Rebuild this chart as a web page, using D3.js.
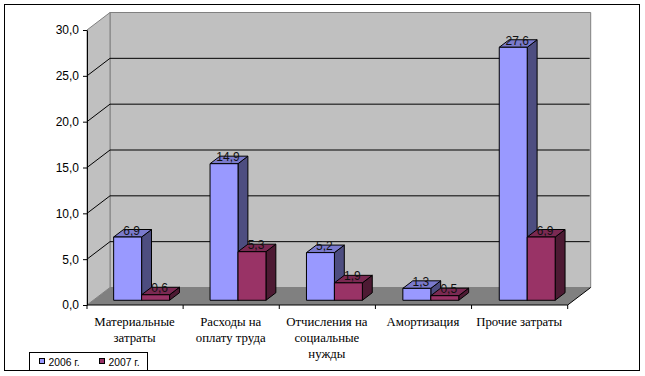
<!DOCTYPE html>
<html>
<head>
<meta charset="utf-8">
<script src="https://d3js.org/d3.v7.min.js"></script>
<style>
html, body { margin: 0; padding: 0; background: #fff; }
svg { display: block; }
</style>
</head>
<body>
<script>
var categories = ["Материальные затраты", "Расходы на оплату труда", "Отчисления на социальные нужды", "Амортизация", "Прочие затраты"];
var categoryLines = [["Материальные", "затраты"], ["Расходы на", "оплату труда"], ["Отчисления на", "социальные", "нужды"], ["Амортизация"], ["Прочие затраты"]];
var seriesNames = ["2006 г.", "2007 г."];
var values2006 = [6.9, 14.9, 5.2, 1.3, 27.6];
var values2007 = [0.6, 5.3, 1.9, 0.5, 6.9];
var yTicks = [0, 5, 10, 15, 20, 25, 30];

var colors = [
	{front: "#9999ff", top: "#7a7acc", side: "#4d4d80"},
	{front: "#993366", top: "#7a2952", side: "#4d1a33"}
];

var width = 645, height = 376;

var svg = d3.select("body").append("svg")
	.attr("width", width)
	.attr("height", height);

// scales
var y = d3.scaleLinear().domain([0, 30]).range([305, 30]);
var x = d3.scaleBand().domain(categories).range([87.2, 569.2]).paddingInner(0.42).paddingOuter(0.21);
var xGroup = d3.scaleBand().domain([0, 1]).range([0, x.bandwidth()]);
var xFloor = d3.scaleBand().domain(categories).range([87, 567.7]);

// depth: 0 = front of the floor, 1 = back wall
var depthX = d3.scaleLinear().domain([0, 1]).range([0, 23]);
var depthY = d3.scaleLinear().domain([0, 1]).range([0, -17.5]);
var barFront = 0.27, barBack = 0.7;

var left = xFloor.range()[0], right = xFloor.range()[1];

function poly(points, fill, stroke) {
	return svg.append("polygon")
		.attr("points", points.map(function(p) { return p.join(","); }).join(" "))
		.attr("fill", fill)
		.attr("stroke", stroke || "none");
}

function line(x1, y1, x2, y2, color, w) {
	return svg.append("line")
		.attr("x1", x1).attr("y1", y1)
		.attr("x2", x2).attr("y2", y2)
		.attr("stroke", color)
		.attr("stroke-width", w || 1);
}

// outer frame
svg.append("rect")
	.attr("x", 4.5).attr("y", 4.5)
	.attr("width", 635).attr("height", 366)
	.attr("fill", "#fff")
	.attr("stroke", "#000")
	.attr("stroke-width", 1);

var d = depthX(1), e = depthY(1);

// walls and floor
poly([[left + d, y(30) + e], [right + d, y(30) + e], [right + d, y(0) + e], [left + d, y(0) + e]], "#c0c0c0", "#808080");
poly([[left, y(30)], [left + d, y(30) + e], [left + d, y(0) + e], [left, y(0)]], "#c0c0c0", "#808080");
poly([[left, y(0)], [left + d, y(0) + e], [right + d, y(0) + e], [right, y(0)]], "#808080", "none");

// gridlines
yTicks.slice(1, -1).forEach(function(t) {
	line(left, y(t), left + d, y(t) + e, "#000");
	line(left + d, y(t) + e, right + d - 1, y(t) + e, "#000");
});

// axes
var yAxis = d3.axisLeft(y)
	.tickValues(yTicks)
	.tickSizeInner(4)
	.tickSizeOuter(0)
	.tickPadding(4)
	.tickFormat(function(t) { return d3.format(".1f")(t).replace(".", ","); });

var yG = svg.append("g")
	.attr("transform", "translate(" + left + ",0)")
	.call(yAxis);
yG.selectAll("text")
	.attr("font-family", "Liberation Sans")
	.attr("font-size", 12)
	.attr("fill", "#000");

line(left, y(0), right, y(0), "#000");
line(right, y(0), right + d, y(0) + e, "#000");

categories.map(function(c) { return xFloor(c); }).concat([right]).forEach(function(t) {
	line(t, y(0), t, y(0) + 4, "#000");
});

// bars
var series = [values2006, values2007];
categories.forEach(function(c, i) {
	series.forEach(function(vals, s) {
		var col = colors[s];
		var x0 = x(c) + xGroup(s) + depthX(barFront);
		var x1 = x0 + xGroup.bandwidth();
		var yb = y(0) + depthY(barFront);
		var yt = y(vals[i]) + depthY(barFront);
		var dx = depthX(barBack - barFront);
		var dy = depthY(barBack - barFront);
		poly([[x1, yb], [x1 + dx, yb + dy], [x1 + dx, yt + dy], [x1, yt]], col.side, "#000");
		poly([[x0, yt], [x0 + dx, yt + dy], [x1 + dx, yt + dy], [x1, yt]], col.top, "#000");
		poly([[x0, yb], [x1, yb], [x1, yt], [x0, yt]], col.front, "#000");
	});
});

// data labels
categories.forEach(function(c, i) {
	series.forEach(function(vals, s) {
		svg.append("text")
			.attr("x", x(c) + xGroup(s) + xGroup.bandwidth() / 2 + depthX(barFront) + 4)
			.attr("y", y(vals[i]) + depthY(barFront) - 2.5)
			.attr("text-anchor", "middle")
			.attr("font-family", "Liberation Sans")
			.attr("font-size", 12)
			.attr("fill", "#111")
			.text(d3.format(".1f")(vals[i]).replace(".", ","));
	});
});

// category labels
categories.forEach(function(c, i) {
	categoryLines[i].forEach(function(l, j) {
		svg.append("text")
			.attr("x", xFloor(c) + xFloor.bandwidth() / 2 - 0.5)
			.attr("y", 326 + j * 16)
			.attr("text-anchor", "middle")
			.attr("font-family", "Liberation Serif")
			.attr("font-size", 12.8)
			.attr("fill", "#000")
			.text(l);
	});
});

// legend
svg.append("rect")
	.attr("x", 29.5).attr("y", 352.5)
	.attr("width", 118).attr("height", 18)
	.attr("fill", "#fff")
	.attr("stroke", "#000");

var legend = svg.selectAll(".legend")
	.data(seriesNames)
	.enter().append("g")
	.attr("class", "legend")
	.attr("transform", function(n, i) { return "translate(" + (39.5 + i * 60) + ",358.5)"; });

legend.append("rect")
	.attr("width", 5).attr("height", 5)
	.attr("fill", function(n, i) { return colors[i].front; })
	.attr("stroke", "#000");

legend.append("text")
	.attr("x", 9)
	.attr("y", 7)
	.attr("font-family", "Liberation Sans")
	.attr("font-size", 10.3)
	.attr("fill", "#000")
	.text(function(n) { return n; });
</script>
</body>
</html>
